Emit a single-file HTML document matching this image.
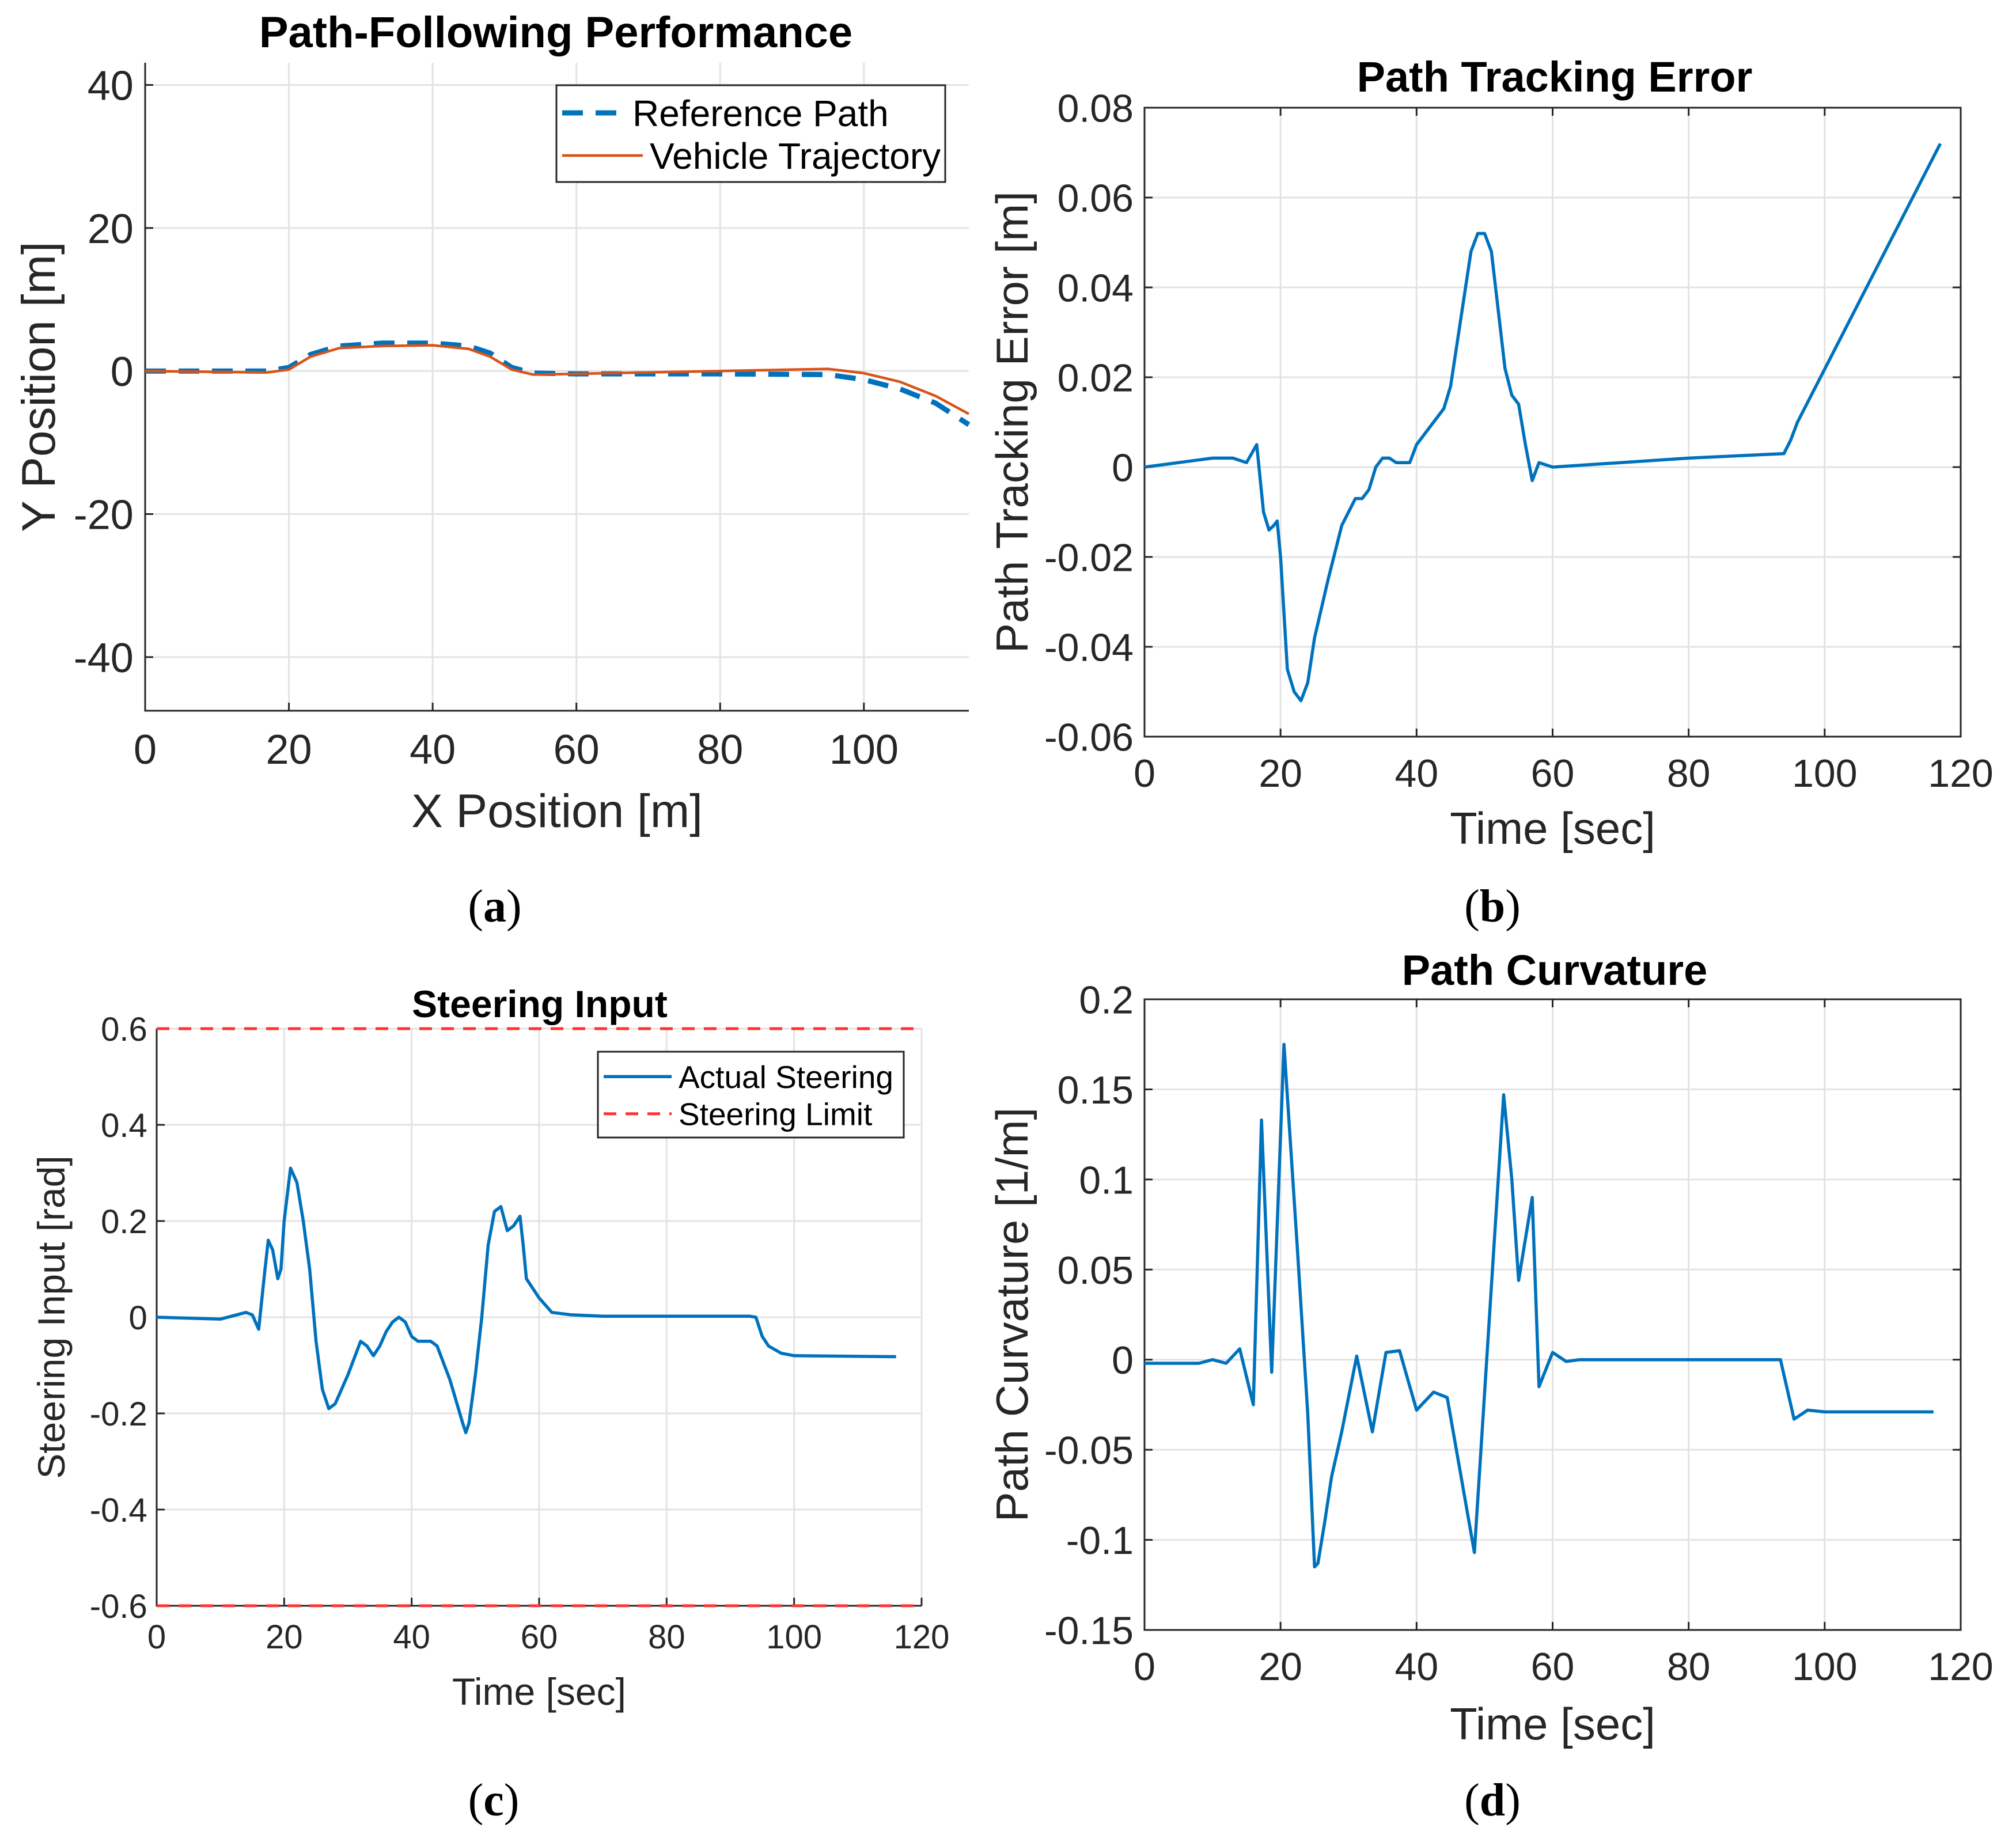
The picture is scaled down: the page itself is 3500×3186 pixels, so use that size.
<!DOCTYPE html>
<html><head><meta charset="utf-8">
<style>
html,body{margin:0;padding:0;background:#fff;}
svg{display:block;}
text{font-family:"Liberation Sans",Arial,sans-serif;}
</style></head>
<body>
<svg id="fig" width="3500" height="3186" viewBox="0 0 3500 3186" xmlns="http://www.w3.org/2000/svg"></svg>
<script>
// ---- Panel (a) data ----
const aRefX=[0,17,20,23,27,33,40,45,48,51,54,60,80,95,100,105,110,114.6];
const aRefY=[0,0,0.5,2.3,3.5,3.9,3.9,3.5,2.5,0.5,-0.3,-0.4,-0.4,-0.5,-1.2,-2.5,-4.5,-7.5];
const aVehX=[0,17,20,23,27,33,40,45,48,51,54,60,80,95,100,105,110,114.6];
const aVehY=[0,-0.2,0.2,2,3.2,3.5,3.6,3.1,2,0.2,-0.5,-0.4,0,0.3,-0.3,-1.5,-3.5,-6];
const aXTicks=[0,20,40,60,80,100];
const aYTicks=[-40,-20,0,20,40];
// ---- Panel (b) data ----
const bT=[0,5,10,13,15,16.5,17.5,18.3,19,19.5,20,21,22,23,24,25,27,29,31,32,33,34,35,36,37,39,40,42,44,45,46,47,48,49,50,51,52,53,54,55,56,57,58,60,70,80,94,95,96,117];
const bE=[0,0.001,0.002,0.002,0.001,0.005,-0.01,-0.014,-0.013,-0.012,-0.02,-0.045,-0.05,-0.052,-0.048,-0.038,-0.025,-0.013,-0.007,-0.007,-0.005,0,0.002,0.002,0.001,0.001,0.005,0.009,0.013,0.018,0.028,0.038,0.048,0.052,0.052,0.048,0.035,0.022,0.016,0.014,0.005,-0.003,0.001,0,0.001,0.002,0.003,0.006,0.01,0.072];
const bXTicks=[0,20,40,60,80,100,120];
const bYTicks=[-0.06,-0.04,-0.02,0,0.02,0.04,0.06,0.08];
const bYLabels=["-0.06","-0.04","-0.02","0","0.02","0.04","0.06","0.08"];
// ---- Panel (c) data ----
const cT=[0,10,14,15,16,17,17.5,18.2,19,19.5,20,21,22,23,24,25,26,27,28,30,32,33,34,35,36,37,38,39,40,41,43,44,46,48,48.5,49,50,51,52,53,54,55,56,57,57.5,58,60,62,65,70,93,94,95,96,98,100,116];
const cS=[0,-0.004,0.01,0.005,-0.025,0.1,0.16,0.14,0.08,0.1,0.2,0.31,0.28,0.2,0.1,-0.05,-0.15,-0.19,-0.18,-0.12,-0.05,-0.06,-0.08,-0.06,-0.03,-0.01,0,-0.01,-0.04,-0.05,-0.05,-0.06,-0.13,-0.22,-0.24,-0.22,-0.12,0,0.15,0.22,0.23,0.18,0.19,0.21,0.15,0.08,0.04,0.01,0.005,0.002,0.002,0,-0.04,-0.06,-0.075,-0.08,-0.082];
const cLimit=[0.6,-0.6];
const cXTicks=[0,20,40,60,80,100,120];
const cYTicks=[-0.6,-0.4,-0.2,0,0.2,0.4,0.6];
const cYLabels=["-0.6","-0.4","-0.2","0","0.2","0.4","0.6"];
// ---- Panel (d) data ----
const dT=[0,8,10,12,14,16,17.2,18.7,20.5,22.5,24,25,25.5,26.5,27.5,29,31.2,33.5,35.5,37.5,40,42.5,44.5,48.5,52.8,54,55,57,58,60,62,64,93.5,95.5,97.5,100,116];
const dK=[-0.002,-0.002,0,-0.002,0.006,-0.025,0.133,-0.007,0.175,0.06,-0.03,-0.115,-0.113,-0.09,-0.065,-0.04,0.002,-0.04,0.004,0.005,-0.028,-0.018,-0.021,-0.107,0.147,0.1,0.044,0.09,-0.015,0.004,-0.001,0,0,-0.033,-0.028,-0.029,-0.029];
const dXTicks=[0,20,40,60,80,100,120];
const dYTicks=[-0.15,-0.1,-0.05,0,0.05,0.1,0.15,0.2];
const dYLabels=["-0.15","-0.1","-0.05","0","0.05","0.1","0.15","0.2"];

const NS="http://www.w3.org/2000/svg";
const svg=document.getElementById('fig');
function mk(tag,attrs,parent){const e=document.createElementNS(NS,tag);for(const k in attrs)e.setAttribute(k,attrs[k]);(parent||svg).appendChild(e);return e;}

function axes(o){
  const g=mk('g',{});
  
  
  const sx=v=>o.L+(v-o.x0)/(o.x1-o.x0)*(o.R-o.L);
  const sy=v=>o.B-(v-o.y0)/(o.y1-o.y0)*(o.B-o.T);
  o.xt.forEach(v=>{const l=mk('line',{x1:sx(v),x2:sx(v),y1:o.T,y2:o.B,stroke:'#e3e3e3','stroke-width':3},g);});
  o.yt.forEach(v=>{const l=mk('line',{x1:o.L,x2:o.R,y1:sy(v),y2:sy(v),stroke:'#e3e3e3','stroke-width':3},g);});
  const ax=mk('path',{d:o.box?`M${o.L},${o.T}H${o.R}V${o.B}H${o.L}Z`:`M${o.L},${o.T}V${o.B}H${o.R}`,fill:'none',stroke:'#262626','stroke-width':3},g);
  
  o.xt.forEach(v=>{mk('line',{x1:sx(v),x2:sx(v),y1:o.B,y2:o.B-14,stroke:'#262626','stroke-width':3},g);if(o.box)mk('line',{x1:sx(v),x2:sx(v),y1:o.T,y2:o.T+14,stroke:'#262626','stroke-width':3},g);});
  o.yt.forEach(v=>{mk('line',{x1:o.L,x2:o.L+14,y1:sy(v),y2:sy(v),stroke:'#262626','stroke-width':3},g);if(o.box)mk('line',{x1:o.R,x2:o.R-14,y1:sy(v),y2:sy(v),stroke:'#262626','stroke-width':3},g);});
  o.xt.forEach((v,i)=>{const t=mk('text',{x:sx(v),y:o.B+o.tfs*1.28,'font-size':o.tfs,'text-anchor':'middle',style:'fill:#262626'},g);t.textContent=o.xl?o.xl[i]:String(v);});
  o.yt.forEach((v,i)=>{const t=mk('text',{x:o.L-o.tfs*0.28,y:sy(v)+o.tfs*0.36,'font-size':o.tfs,'text-anchor':'end',style:'fill:#262626'},g);t.textContent=o.yl?o.yl[i]:String(v);});
  const tt=mk('text',{x:o.tx,y:o.ty,'font-size':o.ttfs,'font-weight':'bold','text-anchor':'middle',style:'fill:#000'},g);tt.textContent=o.title;
  const xl=mk('text',{x:(o.L+o.R)/2,y:o.xly,'font-size':o.lfs,'text-anchor':'middle',style:'fill:#262626'},g);xl.textContent=o.xlabel;
  const yc=(o.T+o.B)/2;
  const yl=mk('text',{x:o.ylx,y:yc,'font-size':o.lfs,'text-anchor':'middle',transform:`rotate(-90 ${o.ylx} ${yc})`,style:'fill:#262626'},g);yl.textContent=o.ylabel;
  const pl=mk('text',{x:o.plx,y:o.ply,'font-size':80,'text-anchor':'middle',style:'fill:#000;font-family:"Liberation Serif",serif'},g);
  pl.innerHTML='(<tspan font-weight="bold">'+o.panel+'</tspan>)';
  return {g,sx,sy};
}
function series(ax,xs,ys,attrs,name){
  const d=xs.map((x,i)=>(i?'L':'M')+ax.sx(x).toFixed(1)+','+ax.sy(ys[i]).toFixed(1)).join('');
  const p=mk('path',Object.assign({d,fill:'none','stroke-linejoin':'round'},attrs),ax.g);
  
  return p;
}
function legend(ax,x,y,w,h,items,fs){
  const g=mk('g',{},ax.g);
  
  mk('rect',{x,y,width:w,height:h,fill:'#fff',stroke:'#262626','stroke-width':3},g);
  items.forEach((it,i)=>{
    const cy=y+h*(i+0.5)/items.length+(i?-4:6);
    const ln=mk('line',Object.assign({x1:x+10,x2:x+10+it.len,y1:cy,y2:cy},it.attrs),g);
    
    const t=mk('text',{x:x+22+it.len,y:cy+fs*0.36,'font-size':fs,style:'fill:#000'},g);t.textContent=it.label;
    
  });
}

// Panel a
const A=axes({name:'panel-a-path-following',L:252,R:1682,T:109,B:1234,x0:0,x1:114.6,y0:-47.5,y1:43.1,xt:aXTicks,yt:aYTicks,box:false,tfs:72,ttfs:76,lfs:82,
  title:'Path-Following Performance',tx:965,ty:82,xlabel:'X Position [m]',xly:1436,ylabel:'Y Position [m]',ylx:95,plx:859,ply:1600,panel:'a'});
series(A,aRefX,aRefY,{stroke:'#0072BD','stroke-width':9,'stroke-dasharray':'36,22'},'reference-path-line');
series(A,aVehX,aVehY,{stroke:'#D95319','stroke-width':4.5},'vehicle-trajectory-line');
legend(A,966,148,675,168,[{label:'Reference Path',len:110,attrs:{stroke:'#0072BD','stroke-width':9,'stroke-dasharray':'36,22'}},{label:'Vehicle Trajectory',len:140,attrs:{stroke:'#D95319','stroke-width':4.5}}],64);

// Panel b
const Bx=axes({name:'panel-b-tracking-error',L:1987,R:3404,T:187,B:1279,x0:0,x1:120,y0:-0.06,y1:0.08,xt:bXTicks,yt:bYTicks,yl:bYLabels,box:true,tfs:68,ttfs:74,lfs:78,
  title:'Path Tracking Error',tx:2699,ty:159,xlabel:'Time [sec]',xly:1465,ylabel:'Path Tracking Error [m]',ylx:1784,plx:2591,ply:1600,panel:'b'});
series(Bx,bT,bE,{stroke:'#0072BD','stroke-width':5.5},'tracking-error-line');

// Panel c
const C=axes({name:'panel-c-steering-input',L:272,R:1600,T:1786,B:2788,x0:0,x1:120,y0:-0.6,y1:0.6,xt:cXTicks,yt:cYTicks,yl:cYLabels,box:false,tfs:58,ttfs:66,lfs:66,
  title:'Steering Input',tx:937,ty:1766,xlabel:'Time [sec]',xly:2960,ylabel:'Steering Input [rad]',ylx:112,plx:857,ply:3152,panel:'c'});
cLimit.forEach(v=>series(C,[0,120],[v,v],{stroke:'#FF3333','stroke-width':5,'stroke-dasharray':'22,16'},'steering-limit-line'));
series(C,cT,cS,{stroke:'#0072BD','stroke-width':5.5},'actual-steering-line');
legend(C,1038,1826,531,149,[{label:'Actual Steering',len:118,attrs:{stroke:'#0072BD','stroke-width':5.5}},{label:'Steering Limit',len:118,attrs:{stroke:'#FF3333','stroke-width':5,'stroke-dasharray':'22,16'}}],55);

// Panel d
const D=axes({name:'panel-d-path-curvature',L:1987,R:3404,T:1735,B:2830,x0:0,x1:120,y0:-0.15,y1:0.2,xt:dXTicks,yt:dYTicks,yl:dYLabels,box:true,tfs:68,ttfs:74,lfs:78,
  title:'Path Curvature',tx:2699,ty:1710,xlabel:'Time [sec]',xly:3020,ylabel:'Path Curvature [1/m]',ylx:1784,plx:2591,ply:3152,panel:'d'});
series(D,dT,dK,{stroke:'#0072BD','stroke-width':5.5},'path-curvature-line');
</script>
</body></html>
